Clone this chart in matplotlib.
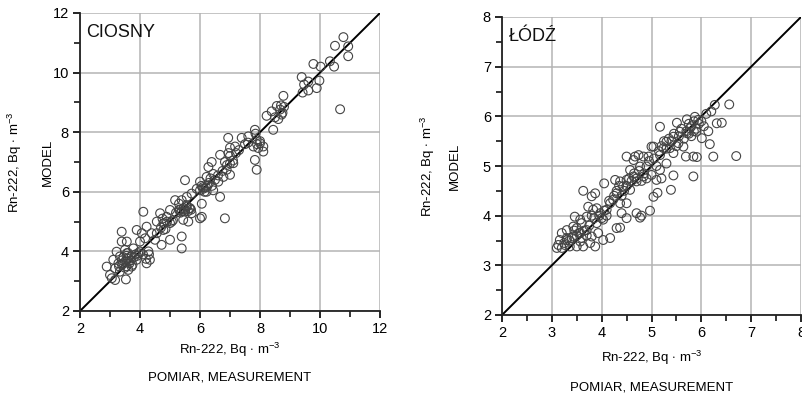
import matplotlib
matplotlib.use('Agg')
import matplotlib.pyplot as plt
from matplotlib.ticker import MultipleLocator

plt.rcParams['font.family'] = ['Liberation Sans', 'DejaVu Sans']
plt.rcParams['mathtext.fontset'] = 'custom'
plt.rcParams['mathtext.rm'] = 'Liberation Sans'
plt.rcParams['mathtext.it'] = 'Liberation Sans'

ciosny_pts = [
    (10.78, 11.19), (10.5, 10.9), (10.94, 10.88), (10.94, 10.55), (10.33, 10.38),
    (10.47, 10.2), (9.78, 10.29), (10.02, 10.2), (9.98, 9.73), (9.89, 9.48),
    (10.67, 8.77), (9.39, 9.85), (9.47, 9.6), (9.61, 9.7), (9.61, 9.4), (9.42, 9.33),
    (8.78, 9.22), (8.56, 8.88), (8.22, 8.55), (8.39, 8.7), (8.67, 8.76), (8.72, 8.59),
    (8.61, 8.44), (8.5, 8.5), (8.44, 8.08), (7.83, 8.08), (7.61, 7.86), (7.89, 7.74),
    (8.0, 7.63), (8.11, 7.52), (7.78, 7.52), (7.94, 7.47), (8.11, 7.35), (7.83, 7.07),
    (7.89, 6.74), (7.39, 7.81), (7.17, 7.52), (6.94, 7.81), (7.0, 7.48),
    (7.0, 7.2), (6.83, 7.0), (6.67, 7.24), (7.11, 6.96), (6.89, 6.74), (7.0, 6.57),
    (6.78, 6.5), (6.39, 7.0), (6.28, 6.83), (6.44, 6.6), (6.22, 6.5), (6.0, 6.34),
    (6.11, 6.16), (5.89, 6.1), (6.22, 6.0), (6.44, 6.05), (6.61, 6.34), (6.67, 5.83),
    (6.06, 5.6), (6.06, 5.16), (6.0, 5.11), (6.83, 5.11), (5.5, 6.39), (5.72, 5.94),
    (5.56, 5.83), (5.39, 5.72), (5.56, 5.5), (5.33, 5.39), (5.5, 5.34), (5.67, 5.45),
    (5.72, 5.28), (5.61, 5.0), (5.44, 5.06), (5.39, 4.5), (5.39, 4.1), (5.0, 4.39),
    (5.17, 5.72), (5.0, 5.39), (4.89, 5.16), (5.06, 5.0), (4.78, 4.94), (4.67, 5.28),
    (4.56, 5.0), (4.78, 4.72), (4.56, 4.61), (4.72, 4.22), (4.5, 4.39), (4.39, 4.61),
    (4.11, 5.33), (4.22, 4.83), (4.06, 4.61), (3.89, 4.72), (4.17, 4.44), (4.0, 4.33),
    (4.28, 4.0), (4.33, 3.72), (4.22, 3.6), (3.94, 3.94), (3.78, 4.1), (3.72, 3.83),
    (3.89, 3.72), (3.61, 3.66), (3.72, 3.49), (3.56, 3.94), (3.39, 4.66), (3.39, 4.33),
    (3.56, 4.33), (3.5, 4.05), (3.33, 3.83), (3.44, 3.6), (3.28, 3.6), (3.22, 3.99),
    (3.11, 3.72), (2.89, 3.49), (3.17, 3.43), (3.0, 3.21), (3.06, 3.1), (3.17, 3.04),
    (3.53, 3.06), (3.33, 3.32), (3.61, 3.38),
    (3.4, 3.55), (3.5, 3.65), (3.55, 3.5), (3.6, 3.75), (3.45, 3.8), (3.65, 3.6),
    (3.7, 3.7), (3.8, 3.8), (3.5, 3.45), (3.4, 3.7), (3.75, 3.55), (3.85, 3.9),
    (3.9, 3.85), (4.0, 4.0), (3.6, 3.95), (3.3, 3.5), (3.55, 3.85), (4.1, 3.9),
    (4.2, 3.75), (4.3, 3.9), (4.7, 4.8), (4.8, 4.95), (4.9, 5.0), (5.0, 4.95),
    (5.1, 5.05), (4.75, 5.1), (4.85, 4.75), (5.2, 5.3), (5.3, 5.4), (5.4, 5.35),
    (5.45, 5.45), (5.5, 5.4), (5.6, 5.35), (5.65, 5.45), (5.35, 5.3), (5.55, 5.55),
    (5.7, 5.4), (5.3, 5.6), (6.0, 6.05), (6.1, 6.1), (6.2, 6.15), (6.15, 6.0),
    (6.25, 6.2), (6.3, 6.3), (6.35, 6.45), (6.4, 6.2), (6.5, 6.4), (6.05, 6.2),
    (6.6, 6.55), (6.75, 6.7), (6.9, 6.9), (7.0, 6.95), (7.1, 7.05), (6.95, 7.3),
    (7.2, 7.3), (7.3, 7.4), (7.5, 7.6), (7.6, 7.65), (7.9, 7.6), (8.0, 7.7),
    (7.85, 7.95), (8.8, 8.85), (8.7, 8.9), (8.75, 8.65),
]

# ---- ŁÓDŹ ----
lodz_pts = [
    (6.56, 6.24), (6.27, 6.23), (6.41, 5.87), (6.31, 5.86), (6.14, 5.7), (6.01, 5.56),
    (6.17, 5.44), (6.24, 5.19), (6.7, 5.2), (5.84, 5.19), (5.91, 5.18), (5.69, 5.19),
    (5.84, 4.79), (5.44, 4.81), (5.39, 4.52), (5.12, 4.46), (5.04, 4.38), (4.97, 4.1),
    (4.7, 4.05), (4.77, 3.96), (4.8, 4.0), (4.5, 3.95), (4.37, 3.76), (4.3, 3.75),
    (4.05, 4.65), (3.63, 4.5), (3.8, 4.39), (3.87, 4.45), (3.87, 3.38), (3.1, 3.35),
    (3.2, 3.35),
    (5.17, 5.79), (5.04, 5.39), (5.51, 5.87), (5.71, 5.94), (5.87, 5.99), (5.94, 5.93),
    (5.77, 5.76), (5.9, 5.69), (5.71, 5.66), (5.57, 5.69), (5.44, 5.59), (5.3, 5.49),
    (5.37, 5.36), (5.24, 5.36), (5.54, 5.46), (5.64, 5.39), (5.44, 5.26), (5.17, 5.22),
    (5.3, 5.05), (5.17, 4.92), (5.2, 4.75), (5.1, 4.72), (4.94, 5.19), (4.84, 5.19),
    (4.74, 5.22), (4.67, 5.19), (4.5, 5.19), (4.64, 5.12), (4.9, 4.99), (5.0, 5.39),
    (4.77, 4.99), (4.57, 4.92), (4.64, 4.79), (4.84, 4.79), (5.0, 4.82), (4.7, 4.69),
    (4.5, 4.72), (4.37, 4.69), (4.27, 4.72), (4.43, 4.59), (4.57, 4.52), (4.3, 4.45),
    (4.23, 4.32), (4.37, 4.25), (4.5, 4.25), (4.4, 4.05), (4.17, 4.25), (4.1, 4.12),
    (3.97, 4.05), (3.83, 4.12), (3.73, 4.18), (4.03, 3.92), (3.9, 3.85), (3.7, 3.98),
    (3.57, 3.92), (3.46, 3.98), (3.43, 3.78), (3.3, 3.71), (3.2, 3.65), (3.16, 3.51),
    (3.3, 3.51), (3.43, 3.58), (3.57, 3.65), (3.7, 3.71), (3.8, 3.58), (3.93, 3.65),
    (4.03, 3.51), (3.77, 3.45), (3.57, 3.48), (3.36, 3.38), (3.26, 3.41), (3.5, 3.38),
    (3.63, 3.38), (3.13, 3.41), (4.17, 3.55),
    (3.4, 3.55), (3.5, 3.6), (3.55, 3.65), (3.45, 3.7), (3.6, 3.55), (3.65, 3.7),
    (3.7, 3.6), (3.35, 3.5), (3.25, 3.45), (3.3, 3.55), (3.5, 3.75), (3.6, 3.85),
    (3.75, 3.8), (3.85, 3.95), (3.95, 4.0), (4.0, 3.95), (4.05, 4.1), (3.9, 4.15),
    (3.8, 4.0), (4.1, 4.0), (4.15, 4.3), (4.25, 4.4), (4.3, 4.5), (4.35, 4.6),
    (4.4, 4.4), (4.45, 4.5), (4.5, 4.6), (4.55, 4.75), (4.6, 4.7), (4.65, 4.85),
    (4.7, 4.75), (4.75, 4.9), (4.8, 4.7), (4.85, 4.85), (4.9, 4.75), (4.95, 5.1),
    (5.05, 5.15), (5.1, 5.0), (5.15, 5.3), (5.2, 5.4), (5.25, 5.5), (5.3, 5.35),
    (5.35, 5.55), (5.4, 5.5), (5.45, 5.65), (5.5, 5.4), (5.55, 5.6), (5.6, 5.75),
    (5.65, 5.55), (5.7, 5.7), (5.75, 5.65), (5.8, 5.8), (5.85, 5.7), (5.9, 5.75),
    (5.95, 5.85), (6.0, 5.9), (6.05, 5.8), (5.8, 5.6), (5.75, 5.85), (5.85, 5.9),
    (6.1, 6.05), (6.2, 6.1),
]

unit = 'Rn-222, Bq $\\cdot$ m$^{-3}$'

fig = plt.figure(figsize=(8.02, 3.98), dpi=100)

panels = [
    # name, points, axes rect, limits, major, minor, ylabel x (px), xlabel y (px), x centre (px)
    ('CIOSNY', ciosny_pts, [80 / 802, 87 / 398, 300 / 802, 298 / 398], (2, 12), 2, 1,
     (15, 48), (350, 378), 230),
    ('ŁÓDŹ', lodz_pts, [502 / 802, 83 / 398, 299 / 802, 298 / 398], (2, 8), 1, 0.5,
     (428, 455), (358, 388), 652),
]

for name, pts, rect, lim, major, minor, ylx, xly, xcen in panels:
    ax = fig.add_axes(rect)
    xs = [p[0] for p in pts]
    ys = [p[1] for p in pts]
    ax.plot(lim, lim, color='black', lw=1.4, zorder=2)
    ax.scatter(xs, ys, s=40, facecolors='none', edgecolors='#444444',
               linewidths=0.8, zorder=3)
    ax.set_xlim(*lim)
    ax.set_ylim(*lim)
    ax.xaxis.set_major_locator(MultipleLocator(major))
    ax.yaxis.set_major_locator(MultipleLocator(major))
    ax.xaxis.set_minor_locator(MultipleLocator(minor))
    ax.yaxis.set_minor_locator(MultipleLocator(minor))
    ax.grid(True, which='major', color='#b4b4b4', lw=1.1, zorder=0)
    ax.set_axisbelow(True)
    for s in ('top', 'right'):
        ax.spines[s].set_visible(False)
    for s in ('left', 'bottom'):
        ax.spines[s].set_linewidth(1.3)
        ax.spines[s].set_color('#222222')
    ax.tick_params(which='major', length=5, width=1.2, labelsize=10.5,
                   direction='out', pad=3)
    ax.tick_params(which='minor', length=4, width=1.1, direction='out')
    ax.text(0.022, 0.935, name, transform=ax.transAxes, fontsize=13,
            ha='left', va='center', color='#111111')

    # axis labels placed in figure pixels
    ymid = rect[1] + rect[3] / 2
    fig.text(ylx[0] / 802, ymid, unit, rotation=90, ha='center', va='center',
             fontsize=9.5)
    fig.text(ylx[1] / 802, ymid, 'MODEL', rotation=90, ha='center', va='center',
             fontsize=9.5)
    fig.text(xcen / 802, 1 - xly[0] / 398, unit, ha='center', va='center',
             fontsize=9.5)
    fig.text(xcen / 802, 1 - xly[1] / 398, 'POMIAR, MEASUREMENT', ha='center',
             va='center', fontsize=9.5)

fig.savefig('out.png', dpi=100, facecolor='white')
